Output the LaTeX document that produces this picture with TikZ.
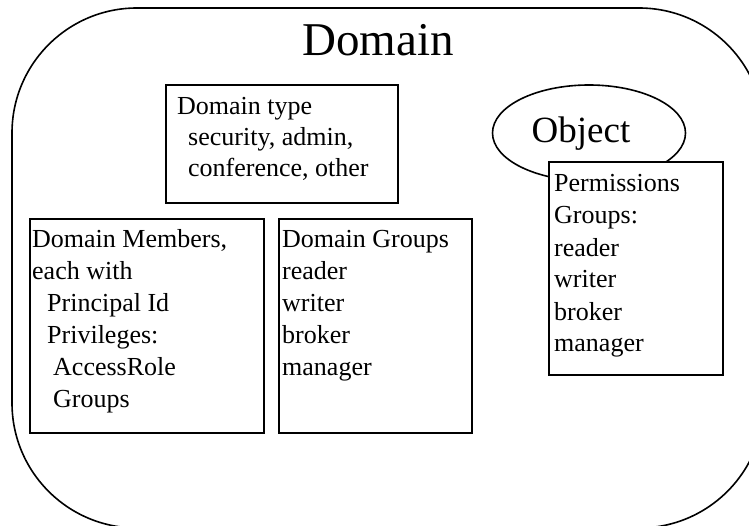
\documentclass[tikz,border=0pt]{standalone}
\usepackage{fontspec}
\setmainfont{Liberation Serif}
\usetikzlibrary{shapes.geometric}
\begin{document}
\begin{tikzpicture}[x=1pt,y=-1pt,
  outline/.style={draw=black, line width=1.6pt},
  panel/.style={outline, fill=white, anchor=north west, inner sep=0pt, outer sep=0pt},
  panetext/.style={anchor=base west, inner sep=0pt, align=left,
    font=\fontsize{26}{32}\selectfont},
]
\useasboundingbox (0,0) rectangle (749,526);

% Domain boundary, running past the right and bottom edges
\draw[outline, rounded corners=125pt] (12,8) rectangle (764,528);
\node[anchor=base, inner sep=0pt, font=\fontsize{47}{50}\selectfont] (title) at (378,56) {Domain};

% Domain type (text nodes are placed by the baseline of their last line)
\node[panel, minimum width=232pt, minimum height=118pt] (typebox) at (166,85) {};
\node[panetext, font=\fontsize{26}{31}\selectfont] (typetext) at (177,177)
  {Domain type\\\hspace*{11pt}security, admin,\\\hspace*{11pt}conference, other};

% Domain members
\node[panel, minimum width=234pt, minimum height=214pt] (members) at (30,219) {};
\node[panetext] (memberstext) at (32,407)
  {Domain Members,\\each with\\\hspace*{15pt}Principal Id\\\hspace*{15pt}Privileges:\\\hspace*{21pt}AccessRole\\\hspace*{21pt}Groups};

% Domain groups
\node[panel, minimum width=193pt, minimum height=214pt] (groups) at (279,219) {};
\node[panetext] (groupstext) at (282,375)
  {Domain Groups\\reader\\writer\\broker\\manager};

% Object with its permissions
\node[outline, ellipse, minimum width=193pt, minimum height=96pt, inner sep=0pt] (object) at (589,133) {};
\node[anchor=base, inner sep=0pt, font=\fontsize{37}{40}\selectfont] (objtitle) at (581,143) {Object};
\node[panel, minimum width=174pt, minimum height=213pt] (perms) at (549,162) {};
\node[panetext] (permstext) at (554,352)
  {Permissions\\Groups:\\reader\\writer\\broker\\manager};
\end{tikzpicture}
\end{document}
